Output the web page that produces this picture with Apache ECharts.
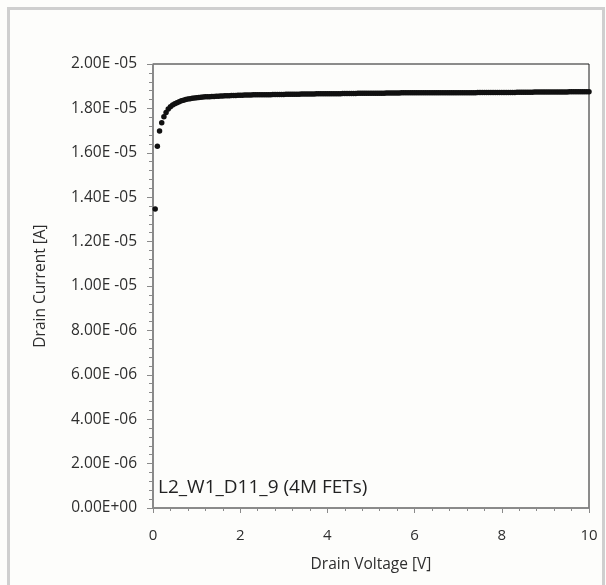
<!DOCTYPE html>
<html>
<head>
<meta charset="utf-8">
<script src="https://cdn.jsdelivr.net/npm/echarts@6/dist/echarts.min.js"></script>
<style>
  html, body { margin: 0; padding: 0; background: #fdfdfb; }
  #chart { width: 606px; height: 585px; }
</style>
</head>
<body>
<div id="chart"></div>
<script>
// Output characteristic sweep: drain voltage (V) vs drain current (µA)
const drainVoltage = [
  0.05,0.10,0.15,0.20,0.25,0.30,0.35,0.40,0.45,0.50,0.55,0.60,0.65,0.70,0.75,0.80,0.85,0.90,0.95,1.00,
  1.05,1.10,1.15,1.20,1.25,1.30,1.35,1.40,1.45,1.50,1.55,1.60,1.65,1.70,1.75,1.80,1.85,1.90,1.95,2.00,
  2.05,2.10,2.15,2.20,2.25,2.30,2.35,2.40,2.45,2.50,2.55,2.60,2.65,2.70,2.75,2.80,2.85,2.90,2.95,3.00,
  3.05,3.10,3.15,3.20,3.25,3.30,3.35,3.40,3.45,3.50,3.55,3.60,3.65,3.70,3.75,3.80,3.85,3.90,3.95,4.00,
  4.05,4.10,4.15,4.20,4.25,4.30,4.35,4.40,4.45,4.50,4.55,4.60,4.65,4.70,4.75,4.80,4.85,4.90,4.95,5.00,
  5.05,5.10,5.15,5.20,5.25,5.30,5.35,5.40,5.45,5.50,5.55,5.60,5.65,5.70,5.75,5.80,5.85,5.90,5.95,6.00,
  6.05,6.10,6.15,6.20,6.25,6.30,6.35,6.40,6.45,6.50,6.55,6.60,6.65,6.70,6.75,6.80,6.85,6.90,6.95,7.00,
  7.05,7.10,7.15,7.20,7.25,7.30,7.35,7.40,7.45,7.50,7.55,7.60,7.65,7.70,7.75,7.80,7.85,7.90,7.95,8.00,
  8.05,8.10,8.15,8.20,8.25,8.30,8.35,8.40,8.45,8.50,8.55,8.60,8.65,8.70,8.75,8.80,8.85,8.90,8.95,9.00,
  9.05,9.10,9.15,9.20,9.25,9.30,9.35,9.40,9.45,9.50,9.55,9.60,9.65,9.70,9.75,9.80,9.85,9.90,9.95,10.00
];

const drainCurrentMicroA = [
  13.47,16.30,16.98,17.35,17.62,17.82,17.97,18.07,18.15,18.21,18.26,18.30,18.34,18.37,18.40,18.42,18.44,18.46,18.47,18.48,
  18.49,18.50,18.51,18.52,18.52,18.53,18.54,18.54,18.55,18.55,18.56,18.56,18.57,18.57,18.57,18.58,18.58,18.58,18.59,18.59,
  18.59,18.60,18.60,18.60,18.60,18.61,18.61,18.61,18.61,18.62,18.62,18.62,18.62,18.62,18.63,18.63,18.63,18.63,18.63,18.63,
  18.64,18.64,18.64,18.64,18.64,18.64,18.64,18.65,18.65,18.65,18.65,18.65,18.65,18.65,18.66,18.66,18.66,18.66,18.66,18.66,
  18.66,18.66,18.66,18.66,18.66,18.66,18.67,18.67,18.67,18.67,18.67,18.67,18.67,18.68,18.68,18.68,18.68,18.68,18.68,18.68,
  18.68,18.68,18.68,18.68,18.68,18.68,18.69,18.69,18.69,18.69,18.69,18.69,18.69,18.70,18.70,18.70,18.70,18.70,18.70,18.70,
  18.70,18.70,18.70,18.70,18.70,18.70,18.70,18.70,18.70,18.70,18.71,18.71,18.71,18.71,18.71,18.71,18.71,18.71,18.71,18.71,
  18.71,18.71,18.71,18.71,18.71,18.71,18.71,18.71,18.72,18.72,18.72,18.72,18.72,18.72,18.72,18.72,18.72,18.72,18.72,18.72,
  18.72,18.72,18.72,18.72,18.72,18.72,18.73,18.73,18.73,18.73,18.73,18.73,18.73,18.73,18.74,18.74,18.74,18.74,18.74,18.74,
  18.74,18.74,18.74,18.74,18.74,18.74,18.74,18.74,18.74,18.74,18.75,18.75,18.75,18.75,18.75,18.75,18.75,18.75,18.75,18.75
];

const yTickLabels = [
  '0.00E+00','2.00E -06','4.00E -06','6.00E -06','8.00E -06','1.00E -05',
  '1.20E -05','1.40E -05','1.60E -05','1.80E -05','2.00E -05'
];
const xTickLabels = ['0','2','4','6','8','10'];

const deviceLabel = 'L2_W1_D11_9 (4M FETs)';
const xTitle = 'Drain Voltage [V]';
const yTitle = 'Drain Current [A]';

const points = drainVoltage.map((v, i) => [v, drainCurrentMicroA[i] * 1e-6]);

const FONT = '"Open Sans", "Noto Sans", sans-serif';
const axisGray = '#8a8a8a';
const textColor = '#2e2e2e';

const chart = echarts.init(document.getElementById('chart'), null, { renderer: 'canvas' });
chart.setOption({
  backgroundColor: '#fdfdfb',
  animation: false,
  grid: {
    left: 153, top: 64, right: 17, bottom: 77,
    show: true, borderColor: '#1a1a1a', borderWidth: 1, backgroundColor: 'transparent'
  },
  graphic: [
    {
      type: 'rect', z: -1,
      shape: { x: 8.5, y: 8.5, width: 595, height: 600 },
      style: { fill: 'none', stroke: '#cfcfcf', lineWidth: 3 }
    },
    {
      type: 'text', left: 158, top: 478, z: 10,
      style: { text: deviceLabel, font: '19px ' + FONT, fill: '#222' }
    }
  ],
  xAxis: {
    type: 'value', min: 0, max: 10, interval: 2,
    name: xTitle, nameLocation: 'middle', nameGap: 49,
    nameTextStyle: { fontFamily: FONT, fontSize: 15.5, color: textColor },
    axisLine: { show: true, onZero: false, lineStyle: { color: axisGray, width: 1.5 } },
    axisTick: { show: true, inside: false, length: 5, lineStyle: { color: axisGray } },
    minorTick: { show: true, splitNumber: 5, length: 3, lineStyle: { color: axisGray } },
    splitLine: { show: false },
    axisLabel: {
      margin: 20, fontFamily: FONT, fontSize: 15, color: textColor,
      formatter: v => xTickLabels[Math.round(v / 2)]
    }
  },
  yAxis: {
    type: 'value', min: 0, max: 2e-5, interval: 2e-6,
    name: yTitle, nameLocation: 'middle', nameGap: 104, nameRotate: 90,
    nameTextStyle: { fontFamily: FONT, fontSize: 15.5, color: textColor },
    axisLine: { show: true, onZero: false, lineStyle: { color: axisGray, width: 1.5 } },
    axisTick: { show: true, inside: false, length: 6, lineStyle: { color: axisGray } },
    minorTick: { show: true, splitNumber: 5, length: 4, lineStyle: { color: axisGray } },
    splitLine: { show: false },
    axisLabel: {
      margin: 16, fontFamily: FONT, fontSize: 15.5, color: textColor,
      formatter: v => yTickLabels[Math.round(v / 2e-6)]
    }
  },
  series: [{
    type: 'scatter',
    data: points,
    symbol: 'circle',
    symbolSize: 5.5,
    itemStyle: { color: '#111', opacity: 1 },
    clip: false
  }]
});
</script>
</body>
</html>
